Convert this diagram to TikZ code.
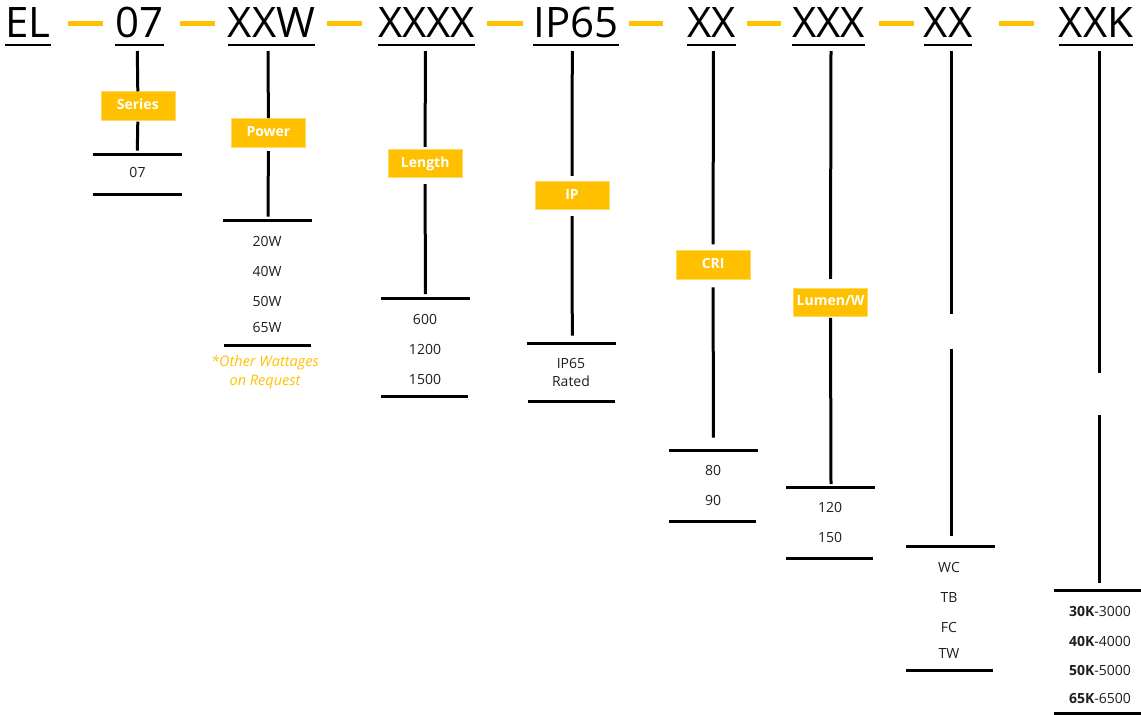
\documentclass[tikz,border=0pt]{standalone}
\usepackage{fontspec}
\setmainfont{Open Sans}
\definecolor{gold}{HTML}{FFC000}
\definecolor{ink}{HTML}{1E1E1E}
\begin{document}
\begin{tikzpicture}[x=1pt,y=-1pt,
  hdr/.style={font=\fontsize{42}{42}\selectfont, text=black, anchor=base, inner sep=0pt},
  ul/.style={line width=2.8pt},
  dashg/.style={draw=gold, line width=5pt},
  stem/.style={line width=3pt},
  bar/.style={line width=3pt},
  lbl/.style={fill=gold, draw=gold!60!white, line width=0.6pt, text=white,
    font=\fontsize{14}{14}\selectfont\bfseries, minimum width=74pt,
    minimum height=28.5pt, inner sep=0pt, text height=10pt, text depth=3pt},
  item/.style={font=\fontsize{14}{14}\selectfont, text=ink, anchor=base, inner sep=0pt},
  note/.style={font=\fontsize{14.5}{14.5}\selectfont\itshape, text=gold, anchor=base, inner sep=0pt},
]
\useasboundingbox (0,0) rectangle (1141,715);

% headers
\node[hdr] (h1) at (28,37.5) {EL};
\node[hdr] (h2) at (139.5,37.5) {07};
\node[hdr] (h3) at (271.5,37.5) {XXW};
\node[hdr] (h4) at (426.5,37.5) {XXXX};
\node[hdr] (h5) at (576,37.5) {IP65};
\node[hdr] (h6) at (711.5,37.5) {XX};
\node[hdr] (h7) at (828.5,37.5) {XXX};
\node[hdr] (h8) at (948,37.5) {XX};
\node[hdr] (h9) at (1096,37.5) {XXK};
\foreach \h in {h1,h2,h3,h4,h5,h6,h7,h8,h9}
  \draw[ul] ([yshift=-7.5pt]\h.base west) -- ([yshift=-7.5pt]\h.base east);

% orange dashes
\foreach \a/\b in {68/103,180/215,327/362,487/523,629/663,747/781,879/914,999/1034}
  \draw[dashg] (\a,23.3) -- (\b,23.3);

% label boxes
\node[lbl] (lS) at (137.8,106) {Series};
\node[lbl] (lP) at (268.4,132.6) {Power};
\node[lbl] (lL) at (425.2,163.5) {Length};
\node[lbl] (lI) at (572,195.5) {IP};
\node[lbl] (lC) at (713.2,264.9) {CRI};
\node[lbl] (lW) at (830.5,302.3) {Lumen/W};

% stems
\coordinate (t2) at (137.3,51);  \coordinate (e2) at (137.3,150.7);
\coordinate (t3) at (268,51);    \coordinate (e3) at (268,216.7);
\coordinate (t4) at (425.3,51);  \coordinate (e4) at (425.3,294);
\coordinate (t5) at (572.3,51);  \coordinate (e5) at (572.3,335.7);
\coordinate (t6) at (713.3,51);  \coordinate (e6) at (713.3,437.7);
\coordinate (t7) at (831,51);    \coordinate (e7) at (831,484);
\coordinate (t8) at (951.3,51);  \coordinate (e8) at (951.3,536);
\coordinate (t9) at (1099.3,51); \coordinate (e9) at (1099.3,583.3);

\draw[stem] (t2) -- (lS.north);
\draw[stem] ([yshift=-1pt]lS.south) -- (e2);
\draw[stem] (t3) -- (lP.north);
\draw[stem] ([yshift=-4pt]lP.south) -- (e3);
\draw[stem] (t4) -- ([yshift=2pt]lL.north);
\draw[stem] ([yshift=-6pt]lL.south) -- (e4);
\draw[stem] (t5) -- ([yshift=5pt]lI.north);
\draw[stem] ([yshift=-6pt]lI.south) -- (e5);
\draw[stem] (t6) -- ([yshift=6pt]lC.north);
\draw[stem] ([yshift=-8pt]lC.south) -- (e6);
\draw[stem] (t7) -- ([yshift=9pt]lW.north);
\draw[stem] ([yshift=-1pt]lW.south) -- (e7);
\coordinate (g8a) at (951.3,314.3); \coordinate (g8b) at (951.3,349.3);
\draw[stem] (t8) -- (g8a);
\draw[stem] (g8b) -- (e8);
\coordinate (g9a) at (1099.3,372.7); \coordinate (g9b) at (1099.3,415);
\draw[stem] (t9) -- (g9a);
\draw[stem] (g9b) -- (e9);

% bars
\draw[bar] (92.7,154.3) -- (182,154.3);   \draw[bar] (92.7,194.3) -- (182,194.3);
\draw[bar] (223.3,220.3) -- (312,220.3);  \draw[bar] (224,345.7) -- (311,345.7);
\draw[bar] (381,298.3) -- (470,298.3);    \draw[bar] (381,396.7) -- (468,396.7);
\draw[bar] (526.7,343.3) -- (616,343.3);  \draw[bar] (528,401) -- (615,401);
\draw[bar] (669,450.3) -- (757.7,450.3);  \draw[bar] (669,521.7) -- (756,521.7);
\draw[bar] (786,487.3) -- (875,487.3);    \draw[bar] (786,558.3) -- (873,558.3);
\draw[bar] (906,546) -- (995,546);        \draw[bar] (906,670.3) -- (993,670.3);
\draw[bar] (1054,590.7) -- (1141,590.7);  \draw[bar] (1054,713.5) -- (1141,713.5);

% items
\node[item] (i21) at (137.5,177.7) {07};
\node[item] (i31) at (267,246.3) {20W};
\node[item] (i32) at (267,276.7) {40W};
\node[item] (i33) at (267,306.7) {50W};
\node[item] (i34) at (267,332.7) {65W};
\node[note] (n31) at (265,366) {*Other Wattages};
\node[note] (n32) at (265,385) {on Request};
\node[item] (i41) at (425,324) {600};
\node[item] (i42) at (425,354) {1200};
\node[item] (i43) at (425,384) {1500};
\node[item] (i51) at (571,368.3) {IP65};
\node[item] (i52) at (571,386.7) {Rated};
\node[item] (i61) at (713,475.7) {80};
\node[item] (i62) at (713,505.7) {90};
\node[item] (i71) at (830,512.3) {120};
\node[item] (i72) at (830,542.3) {150};
\node[item] (i81) at (949,572.3) {WC};
\node[item] (i82) at (949,602.3) {TB};
\node[item] (i83) at (949,632.3) {FC};
\node[item] (i84) at (949,658.3) {TW};
\node[item] (i91) at (1100,616) {\textbf{30K}-3000};
\node[item] (i92) at (1100,646) {\textbf{40K}-4000};
\node[item] (i93) at (1100,675) {\textbf{50K}-5000};
\node[item] (i94) at (1100,703) {\textbf{65K}-6500};
\end{tikzpicture}
\end{document}
